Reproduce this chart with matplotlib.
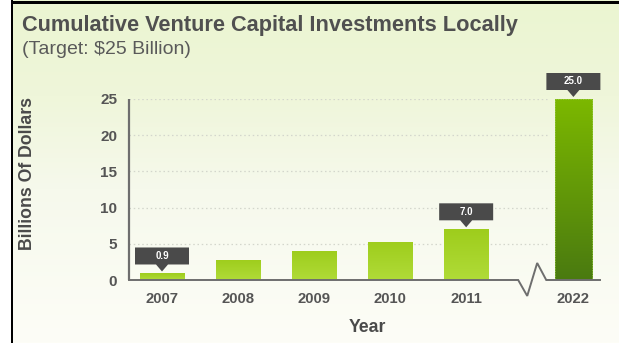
import numpy as np
import matplotlib
matplotlib.use("Agg")
import matplotlib.pyplot as plt
import matplotlib.transforms as mtransforms
from matplotlib.patches import Polygon, Rectangle
from matplotlib.colors import LinearSegmentedColormap

# ---- data ----
years = ["2007", "2008", "2009", "2010", "2011", "2022"]
values = [0.9, 2.8, 4.0, 5.3, 7.0, 25.0]
labelled = ["2007", "2011", "2022"]
y_ticks = [0, 5, 10, 15, 20, 25]

title = "Cumulative Venture Capital Investments Locally"
subtitle = "(Target: $25 Billion)"
x_title = "Year"
y_title = "Billions Of Dollars"

plt.rcParams["font.family"] = ["Liberation Sans", "DejaVu Sans"]

W, H, DPI = 619, 343, 100
fig = plt.figure(figsize=(W / DPI, H / DPI), dpi=DPI)
fig.patch.set_facecolor("white")

# background: soft green fading to near white
bg = fig.add_axes([13 / W, 0, 1 - 13 / W, 1], zorder=-10)
bg.set_axis_off()
bg_cmap = LinearSegmentedColormap.from_list(
    "bg", [(0.0, "#fdfdf7"), (0.45, "#f6f9ec"), (0.72, "#eff6da"), (1.0, "#ebf5d1")])
grad = np.linspace(0, 1, 256).reshape(-1, 1)
bg.imshow(grad, aspect="auto", cmap=bg_cmap, origin="lower", extent=[0, 1, 0, 1])
bg.set_xlim(0, 1)
bg.set_ylim(0, 1)

# frame lines on the top and left
fig.add_artist(Rectangle((11 / W, 0), 2.2 / W, 1, transform=fig.transFigure,
                         color="black", lw=0, zorder=5))
fig.add_artist(Rectangle((11 / W, 1 - 4.3 / H), 1 - 11 / W, 3.3 / H,
                         transform=fig.transFigure, color="black", lw=0, zorder=5))

# bar positions: regular spacing, with the final year set apart after a break
pos = np.array([0, 1, 2, 3, 4, 5.41])
widths = np.array([0.59, 0.59, 0.59, 0.59, 0.59, 0.49])

x_left, x_right = -0.434, 5.76
ax_l, ax_r = 129 / W, 600 / W
ax_b, ax_t = 1 - 280 / H, 1 - 99 / H
ax = fig.add_axes([ax_l, ax_b, ax_r - ax_l, ax_t - ax_b])
ax.set_facecolor("none")
ax.set_xlim(x_left, x_right)
ax.set_ylim(0, 25)
for s in ax.spines.values():
    s.set_visible(False)

# dotted grid lines
ax.hlines([t for t in y_ticks if t > 0], x_left, 5.08, colors="#d3d6cc",
          linestyles=(0, (1.2, 2.2)), lw=0.9, zorder=1)

# bars with vertical gradient fills
light = LinearSegmentedColormap.from_list("light", ["#b0db38", "#9ecd1c"])
dark = LinearSegmentedColormap.from_list("dark", ["#4a7a10", "#7cb800"])
bars = ax.bar(pos, values, width=widths, color="none", zorder=2)
for i, (b, v) in enumerate(zip(bars, values)):
    cm = dark if years[i] == "2022" else light
    x0 = b.get_x()
    im = ax.imshow(grad, aspect="auto", cmap=cm, origin="lower",
                   extent=[x0, x0 + b.get_width(), 0, v], zorder=2)
    im.set_clip_path(b)
ax.set_xlim(x_left, x_right)
ax.set_ylim(0, 25)

# dotted outline on the target bar
tb = bars[-1]
ax.add_patch(Rectangle((tb.get_x(), 0), tb.get_width(), values[-1], fill=False,
                       ec="#9ccf4a", lw=0.6, ls=(0, (1, 1)), zorder=3))

# axis lines, with a break marker in the baseline
axis_col = "#6e6e6e"
ax.plot([x_left, x_left], [0, 25], color=axis_col, lw=1.6, zorder=4,
        solid_capstyle="butt", clip_on=False)
zx = [x_left, 4.684, 4.803, 4.934, 5.053, x_right]
zy = [0, 0, -2.2, 2.35, 0, 0]
ax.plot(zx, zy, color=axis_col, lw=1.4, zorder=4, clip_on=False,
        solid_joinstyle="miter")

# ticks
text_col = "#555555"
ax.set_yticks(y_ticks)
ax.set_yticklabels([str(t) for t in y_ticks], fontsize=11, fontweight="bold",
                   color=text_col)
ax.set_xticks(pos)
ax.set_xticklabels(years, fontsize=10.7, fontweight="bold", color=text_col)
ax.tick_params(axis="y", length=0, pad=8.4)
ax.tick_params(axis="x", length=0, pad=8.8)

# value callouts: dark box with a pointer down to the bar top (pixel units)
callout = np.array([[0, 2], [6, 9], [27, 9], [27, 26], [-27, 26], [-27, 9], [-6, 9]])
for i, y in enumerate(years):
    if y not in labelled:
        continue
    tr = (mtransforms.Affine2D().scale(1 / DPI) + fig.dpi_scale_trans
          + mtransforms.ScaledTranslation(pos[i], values[i], ax.transData))
    ax.add_patch(Polygon(callout, closed=True, transform=tr, fc="#4a4a4a",
                         ec="none", zorder=6, clip_on=False))
    ax.text(0, 17.5, f"{values[i]:.1f}", transform=tr,
            ha="center", va="center", color="white", fontsize=7,
            fontweight="bold", zorder=7, clip_on=False)

# titles and axis names
fig.text(22 / W, 1 - 25 / H, title, fontsize=15.7, fontweight="bold",
         color="#505050", ha="left", va="center")
fig.text(22 / W, 1 - 50 / H, subtitle, fontsize=14, color="#5a5a5a",
         ha="left", va="center")
fig.text(367 / W, 1 - 327 / H, x_title, fontsize=12.7, fontweight="bold",
         color="#4a4a4a", ha="center", va="center")
fig.text(28 / W, 1 - 173 / H, y_title, fontsize=12.7, fontweight="bold",
         color="#4a4a4a", ha="center", va="center", rotation=90)

fig.savefig("out.png", dpi=DPI)
